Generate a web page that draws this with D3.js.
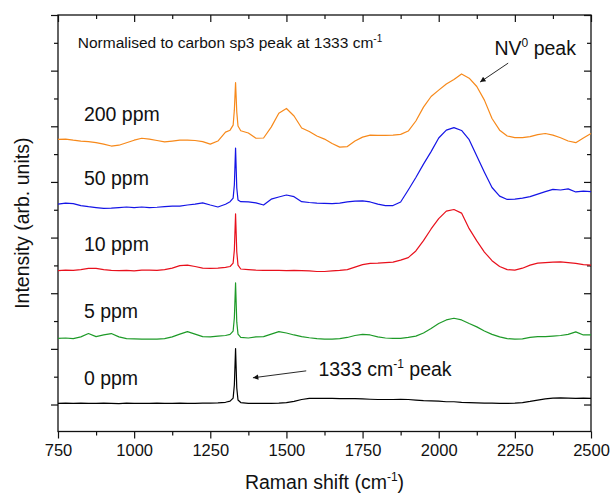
<!DOCTYPE html>
<html>
<head>
<meta charset="utf-8">
<script src="https://cdn.jsdelivr.net/npm/d3@7"></script>
<style>
  body { margin: 0; background: #fff; }
  text { font-family: Arial, "Liberation Sans", sans-serif; fill: #111; }
</style>
</head>
<body>
<script>
// Raman shift (cm-1), shared by every spectrum
const shift = [750,775,800,825,850,875,900,925,950,975,
  1000,1025,1050,1075,1100,1125,1150,1175,1200,1225,
  1250,1275,1300,1315,1325,1329,1333,1337,1341,1350,
  1375,1400,1425,1450,1475,1500,1525,1550,1575,1600,
  1625,1650,1675,1700,1725,1750,1775,1800,1825,1850,
  1875,1900,1925,1950,1975,2000,2025,2050,2075,2100,
  2125,2150,2175,2200,2225,2250,2275,2300,2325,2350,
  2375,2400,2425,2450,2475,2500];

// intensities, normalised and stacked (arb. units)
const ppm0 = [0.4,0.5,0.4,0.5,0.4,0.4,0.5,0.4,0.3,0.5,
  0.4,0.4,0.4,0.5,0.4,0.4,0.5,0.4,0.4,0.5,
  0.5,0.6,0.8,1.2,2.3,7.0,20.1,5.9,1.6,0.7,
  0.4,0.4,0.4,0.4,0.5,0.7,1.1,1.8,2.2,2.2,
  2.2,2.2,2.1,2.1,2.1,2.0,1.9,1.8,1.8,1.8,
  1.9,1.8,1.6,1.4,1.3,1.2,1.0,1.0,0.8,0.7,
  0.6,0.5,0.5,0.4,0.4,0.5,0.7,1.1,1.6,2.0,
  2.3,2.4,2.3,2.2,2.3,2.2];
const ppm5 = [23.8,23.9,23.7,24.3,25.5,24.4,25.0,25.5,24.3,23.7,
  23.6,23.5,23.5,23.5,23.7,24.3,25.3,26.2,25.3,24.4,
  24.3,24.6,24.8,25.2,26.4,31.1,43.7,29.6,25.3,24.1,
  23.9,24.3,24.4,25.3,26.2,25.7,25.0,24.4,24.0,23.7,
  23.5,23.5,23.7,24.1,24.8,25.2,25.0,24.3,23.9,23.8,
  23.8,24.1,24.6,25.7,27.3,29.1,30.4,31.0,30.4,29.1,
  27.9,26.4,25.2,24.3,23.7,23.5,23.6,24.1,24.4,24.4,
  24.6,24.8,25.2,26.1,25.0,25.0];
const ppm10 = [48.1,48.3,48.2,48.5,48.9,48.9,48.5,48.2,48.1,48.2,
  48.0,48.3,48.3,48.2,48.5,49.0,49.9,50.1,49.6,49.0,
  48.9,49.0,49.3,49.6,50.8,55.5,68.5,54.8,50.1,48.7,
  48.5,48.3,48.2,48.2,48.2,48.1,48.2,48.1,48.0,47.8,
  47.8,48.0,48.2,48.5,49.4,50.3,50.7,50.8,51.0,51.2,
  51.9,52.8,55.2,58.9,63.1,66.8,69.5,70.1,68.8,63.2,
  58.8,54.8,51.7,49.6,48.5,48.3,49.0,50.1,50.8,51.0,
  51.2,51.3,51.0,50.7,50.3,50.1];
const ppm50 = [72.0,72.4,72.2,71.5,71.1,70.8,70.5,70.6,70.8,71.0,
  70.8,71.0,70.8,70.9,71.1,71.3,71.3,71.7,72.0,72.5,
  71.7,71.0,72.0,72.9,74.2,78.9,92.2,77.8,73.5,72.9,
  72.8,72.5,71.7,73.8,74.6,75.3,74.7,72.9,72.6,72.4,
  72.3,72.2,72.4,72.8,73.1,73.2,72.8,72.0,71.5,71.5,
  72.8,77.1,81.6,86.4,90.9,95.8,98.6,99.5,98.5,95.2,
  89.3,83.5,78.0,74.9,73.7,73.8,74.2,74.7,75.6,76.5,
  77.3,77.1,77.5,76.4,76.7,76.5];
const ppm200 = [95.3,95.4,95.0,94.7,94.5,94.1,93.6,92.9,93.2,94.1,
  95.0,95.7,95.4,94.9,94.4,94.7,95.0,95.0,94.9,94.5,
  93.6,94.7,97.9,98.6,100.4,105.8,115.7,105.1,100.1,98.4,
  97.6,95.7,95.8,99.7,104.7,106.4,103.7,99.4,98.1,96.5,
  95.4,93.8,92.5,92.7,94.7,96.1,96.8,96.7,96.7,96.8,
  97.1,98.3,101.9,106.9,110.7,113.0,115.2,116.8,118.8,117.3,
  114.3,109.4,102.8,98.6,96.5,95.9,95.9,96.3,97.0,97.4,
  96.8,95.9,94.7,94.1,95.8,97.4];

const labels = ['0 ppm', '5 ppm', '10 ppm', '50 ppm', '200 ppm'];
const labelY = [7, 31, 55, 79, 102];
const colors = ['#000000', '#1e9a28', '#e8101c', '#1414e6', '#f7891a'];
const xTicks = [750, 1000, 1250, 1500, 1750, 2000, 2250, 2500];

const spectra = [ppm0, ppm5, ppm10, ppm50, ppm200];

const width = 611, height = 495;
const margin = { top: 15, right: 20, bottom: 63.5, left: 58 };

const svg = d3.select('body').append('svg')
  .attr('width', width)
  .attr('height', height);

const x = d3.scaleLinear()
  .domain([750, 2500])
  .range([margin.left, width - margin.right]);

const y = d3.scaleLinear()
  .domain([-9.7, 140])
  .range([height - margin.bottom, margin.top]);

const yMajor = d3.range(0, 141, 20);
const yMinor = d3.range(10, 140, 20);
const xMinor = d3.range(875, 2500, 250);

// axes: outward ticks bottom/left, inward mirror ticks top/right
const gBottom = svg.append('g').attr('transform', `translate(0,${y.range()[0]})`);
gBottom.call(d3.axisBottom(x).tickValues(xTicks).tickSize(7).tickPadding(6).tickFormat(d3.format('d')));
gBottom.append('g').call(d3.axisBottom(x).tickValues(xMinor).tickSize(4).tickFormat(''));

const gTop = svg.append('g').attr('transform', `translate(0,${margin.top})`);
gTop.call(d3.axisTop(x).tickValues(xTicks).tickSize(-7).tickFormat(''));
gTop.append('g').call(d3.axisTop(x).tickValues(xMinor).tickSize(-4).tickFormat(''));

const gLeft = svg.append('g').attr('transform', `translate(${margin.left},0)`);
gLeft.call(d3.axisLeft(y).tickValues(yMajor).tickSize(7).tickFormat(''));
gLeft.append('g').call(d3.axisLeft(y).tickValues(yMinor).tickSize(4).tickFormat(''));

const gRight = svg.append('g').attr('transform', `translate(${width - margin.right},0)`);
gRight.call(d3.axisRight(y).tickValues(yMajor).tickSize(-7).tickFormat(''));
gRight.append('g').call(d3.axisRight(y).tickValues(yMinor).tickSize(-4).tickFormat(''));

svg.selectAll('.domain').remove();
svg.selectAll('.tick line').attr('stroke', '#111').attr('stroke-width', 1.2);
gBottom.selectAll('.tick text').style('font-size', '16.5px').attr('fill', '#111');

svg.append('rect')
  .attr('x', x.range()[0])
  .attr('y', margin.top)
  .attr('width', x.range()[1] - x.range()[0])
  .attr('height', y.range()[0] - margin.top)
  .attr('fill', 'none')
  .attr('stroke', '#111')
  .attr('stroke-width', 1.3);

// spectra
const line = d3.line()
  .x((d, i) => x(shift[i]))
  .y(d => y(d));

svg.selectAll('.spec')
  .data(spectra)
  .enter().append('path')
  .attr('class', 'spec')
  .attr('d', line)
  .attr('fill', 'none')
  .attr('stroke', (d, i) => colors[i])
  .attr('stroke-width', 1.2)
  .attr('stroke-linejoin', 'round');

svg.selectAll('.lab')
  .data(labels)
  .enter().append('text')
  .attr('class', 'lab')
  .attr('x', x(835))
  .attr('y', (d, i) => y(labelY[i]))
  .style('font-size', '19.5px')
  .text(d => d);

// annotations
const title = svg.append('text')
  .attr('x', x(815))
  .attr('y', y(128))
  .style('font-size', '15.5px')
  .text('Normalised to carbon sp3 peak at 1333 cm');
title.append('tspan').attr('dy', -6).style('font-size', '10px').text('-1');

const nv = svg.append('text')
  .attr('x', x(2183))
  .attr('y', y(125.5))
  .style('font-size', '19.5px')
  .text('NV');
nv.append('tspan').attr('dy', -8).style('font-size', '12px').text('0');
nv.append('tspan').attr('dy', 8).text(' peak');

const pk = svg.append('text')
  .attr('x', x(1605))
  .attr('y', y(10.2))
  .style('font-size', '19.5px')
  .text('1333 cm');
pk.append('tspan').attr('dy', -8).style('font-size', '12px').text('-1');
pk.append('tspan').attr('dy', 8).text(' peak');

svg.append('defs').append('marker')
  .attr('id', 'head')
  .attr('viewBox', '0 0 10 10')
  .attr('refX', 10).attr('refY', 5)
  .attr('markerWidth', 9).attr('markerHeight', 6)
  .attr('orient', 'auto')
  .append('path').attr('d', 'M0,0 L10,5 L0,10 Z').attr('fill', '#111');

const arrows = [
  [1565, 12.1, 1390, 9.6],
  [2228, 122.7, 2136, 115.9],
];
svg.selectAll('.arrow')
  .data(arrows)
  .enter().append('line')
  .attr('class', 'arrow')
  .attr('x1', d => x(d[0])).attr('y1', d => y(d[1]))
  .attr('x2', d => x(d[2])).attr('y2', d => y(d[3]))
  .attr('stroke', '#111')
  .attr('stroke-width', 0.9)
  .attr('marker-end', 'url(#head)');

// axis titles
const xt = svg.append('text')
  .attr('x', (x.range()[0] + x.range()[1]) / 2)
  .attr('y', 489)
  .attr('text-anchor', 'middle')
  .style('font-size', '19.5px')
  .text('Raman shift (cm');
xt.append('tspan').attr('dy', -8).style('font-size', '12px').text('-1');
xt.append('tspan').attr('dy', 8).text(')');

svg.append('text')
  .attr('transform', `translate(29,${(y.range()[0] + margin.top) / 2}) rotate(-90)`)
  .attr('text-anchor', 'middle')
  .style('font-size', '19.5px')
  .text('Intensity (arb. units)');
</script>
</body>
</html>
